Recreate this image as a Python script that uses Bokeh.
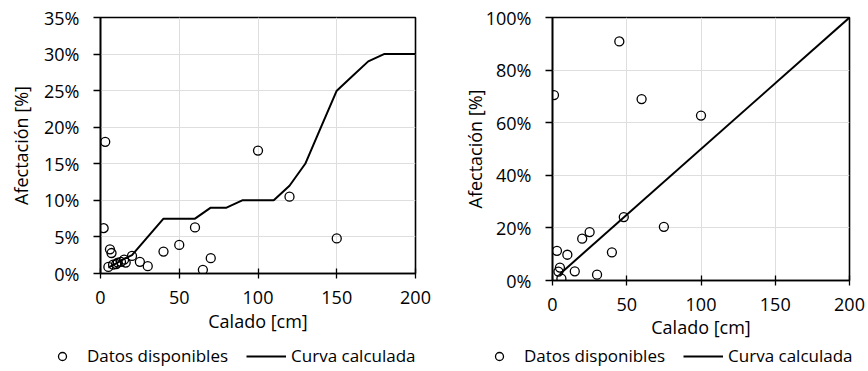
from bokeh.plotting import figure
from bokeh.layouts import row, column
from bokeh.models import Legend, LegendItem, PrintfTickFormatter, FixedTicker, Range1d
from bokeh.embed import file_html
from bokeh.resources import INLINE

# ---- Left chart data ----
calado_datos_1 = [3, 2, 5, 6, 7, 8, 10, 11, 13, 15, 16, 20, 25, 30, 40, 50, 60, 65, 70, 100, 120, 150]
afect_datos_1 = [18.0, 6.2, 0.9, 3.3, 2.8, 1.2, 1.3, 1.5, 1.6, 1.9, 1.5, 2.4, 1.6, 1.0, 3.0, 3.9, 6.3, 0.5, 2.1, 16.8, 10.5, 4.8]
calado_curva_1 = [5, 10, 15, 20, 30, 40, 50, 60, 70, 80, 90, 100, 110, 120, 130, 140, 150, 160, 170, 180, 190, 200]
afect_curva_1 = [0.8, 1.4, 2.0, 2.5, 5, 7.5, 7.5, 7.5, 9, 9, 10, 10, 10, 12, 15, 20, 25, 27, 29, 30, 30, 30]

# ---- Right chart data ----
calado_datos_2 = [1, 3, 4, 5, 6, 10, 15, 20, 25, 30, 40, 45, 48, 60, 75, 100]
afect_datos_2 = [70.5, 11.3, 3.4, 4.9, 0.7, 9.8, 3.5, 15.9, 18.4, 2.2, 10.7, 90.9, 24.1, 69.0, 20.4, 62.7]
calado_curva_2 = [5, 200]
afect_curva_2 = [2.5, 100]

x_ticks = [0, 50, 100, 150, 200]
y_ticks_1 = [0, 5, 10, 15, 20, 25, 30, 35]
y_ticks_2 = [0, 20, 40, 60, 80, 100]
leyenda = ["Datos disponibles", "Curva calculada"]

FONT = "Open Sans"
W = 434
H_CHART = 341
H_LEG = 30


def make_chart(xd, yd, xc, yc, ymax, yticks, bl, br, bt, fh, ylab_standoff, xlab_standoff, xtitle_standoff):
    p = figure(width=W, height=H_CHART, output_backend="svg", toolbar_location=None,
               x_range=Range1d(0, 200), y_range=Range1d(0, ymax),
               min_border_left=bl, min_border_right=br, min_border_top=bt,
               min_border_bottom=H_CHART - bt - fh, frame_align=False)
    p.outline_line_color = "black"
    p.outline_line_width = 1.6
    p.background_fill_color = "white"
    p.border_fill_color = "white"
    p.xgrid.grid_line_color = "#dedede"
    p.ygrid.grid_line_color = "#dedede"
    p.xaxis.ticker = FixedTicker(ticks=x_ticks)
    p.yaxis.ticker = FixedTicker(ticks=yticks)
    p.yaxis.formatter = PrintfTickFormatter(format="%d%%")
    for ax in (p.xaxis, p.yaxis):
        ax.axis_line_color = "black"
        ax.axis_line_width = 1.6
        ax.major_tick_line_color = "black"
        ax.major_tick_line_width = 1.3
        ax.minor_tick_line_color = None
        ax.major_label_text_font = FONT
        ax.major_label_text_font_size = "18px"
        ax.major_label_text_color = "#000000"
        ax.axis_label_text_font = FONT
        ax.axis_label_text_font_size = "18px"
        ax.axis_label_text_font_style = "normal"
        ax.axis_label_text_color = "#000000"
    p.xaxis.major_tick_in = 5
    p.xaxis.major_tick_out = 5
    p.xaxis.major_label_standoff = xlab_standoff
    p.xaxis.axis_label = "Calado [cm]"
    p.xaxis.axis_label_standoff = xtitle_standoff
    p.yaxis.major_tick_in = 0
    p.yaxis.major_tick_out = 7
    p.yaxis.major_label_standoff = 14
    p.yaxis.axis_label = "Afectación [%]"
    p.yaxis.axis_label_standoff = ylab_standoff

    p.scatter(xd, yd, size=9, marker="circle", fill_alpha=0,
              line_color="black", line_width=1.3)
    p.line(xc, yc, line_color="black", line_width=2)
    return p


def make_legend(leg_x):
    q = figure(width=W, height=H_LEG, output_backend="svg", toolbar_location=None,
               x_range=Range1d(0, 1), y_range=Range1d(0, 1), min_border=0,
               frame_align=False)
    q.axis.visible = False
    q.grid.visible = False
    q.outline_line_color = None
    # hidden sample marks (outside the visible range) used only as legend keys
    r_pts = q.scatter(x=[5], y=[5], size=7, marker="circle", fill_alpha=0,
                      line_color="black", line_width=1.3)
    r_line = q.line(x=[5, 6], y=[5, 5], line_color="black", line_width=2)
    legend = Legend(items=[LegendItem(label=leyenda[0], renderers=[r_pts]),
                           LegendItem(label=leyenda[1], renderers=[r_line])],
                    location=(leg_x, 4), orientation="horizontal",
                    glyph_width=40, glyph_height=20, label_standoff=5, spacing=18,
                    padding=0, margin=0, border_line_alpha=0, background_fill_alpha=0,
                    label_text_font=FONT, label_text_font_size="17px",
                    label_text_color="#000000", label_height=20)
    q.add_layout(legend, "center")
    return q


p1 = make_chart(calado_datos_1, afect_datos_1, calado_curva_1, afect_curva_1, 35, y_ticks_1,
                100, 19, 17, 256, 8, 12, 2)
p2 = make_chart(calado_datos_2, afect_datos_2, calado_curva_2, afect_curva_2, 100, y_ticks_2,
                118, 19, 17, 264, -4, 12, 1)

layout = row(column(p1, make_legend(42), spacing=0), column(p2, make_legend(45), spacing=0), spacing=0)
open("out.html", "w").write(file_html(layout, INLINE))
